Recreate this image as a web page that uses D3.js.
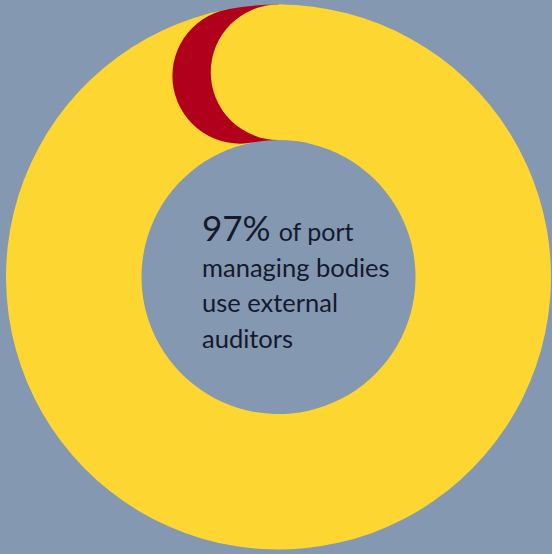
<!DOCTYPE html>
<html>
<head>
<meta charset="utf-8">
<script src="https://cdn.jsdelivr.net/npm/d3@7"></script>
<style>
  html, body { margin: 0; padding: 0; background: #8598b1; overflow: hidden; }
  svg { display: block; }
</style>
</head>
<body>
<svg id="chart" width="552" height="554"></svg>
<script>
// Share of port managing bodies using external auditors
const categories = ["External auditors", "No external auditors"];
const values = [97, 3];
const colors = ["#fdd632", "#b1001c"];
const headline = "97%";
const captionLines = ["of port", "managing bodies", "use external", "auditors"];

const width = 552, height = 554;
const cx = 278.5, cy = 277;
const outerR = 272.5, innerR = 137;
const midR = (outerR + innerR) / 2;
const thickness = outerR - innerR;

const svg = d3.select("#chart");
svg.append("rect").attr("width", width).attr("height", height).attr("fill", "#8598b1");

const g = svg.append("g").attr("transform", `translate(${cx},${cy})`);

const pie = d3.pie().sort(null).value(d => d);
const slices = pie(values);
const ring = d3.arc().innerRadius(innerR).outerRadius(outerR);

// Round cap centred on the ring's centre line at a given angle (clockwise circle)
function capPath(angle) {
  const x = midR * Math.sin(angle);
  const y = -midR * Math.cos(angle);
  const r = thickness / 2;
  const p = d3.path();
  p.moveTo(x + r, y);
  p.arc(x, y, r, 0, 2 * Math.PI, false);
  p.closePath();
  return p.toString();
}

// 1. Yellow ring segment
g.append("path")
  .attr("d", ring(slices[0]))
  .attr("fill", colors[0]);

// 2. Red segment with a rounded start
g.append("path")
  .attr("d", ring(slices[1]) + capPath(slices[1].startAngle))
  .attr("fill", colors[1]);

// 3. Rounded start of the yellow segment, tucked over the red one
g.append("path")
  .attr("d", capPath(slices[0].startAngle))
  .attr("fill", colors[0]);

// Centre caption
const txt = g.append("g")
  .attr("font-family", "Lato, 'Noto Sans', sans-serif")
  .attr("fill", "#141a2b");

const first = txt.append("text").attr("x", -76.5).attr("y", -36);
first.append("tspan").attr("font-size", 35).text(headline);
first.append("tspan").attr("font-size", 25).attr("dx", 8).text(captionLines[0]);

captionLines.slice(1).forEach((line, i) => {
  txt.append("text")
    .attr("x", -76.5)
    .attr("y", i * 35.3)
    .attr("font-size", 25.5)
    .text(line);
});
</script>
</body>
</html>
